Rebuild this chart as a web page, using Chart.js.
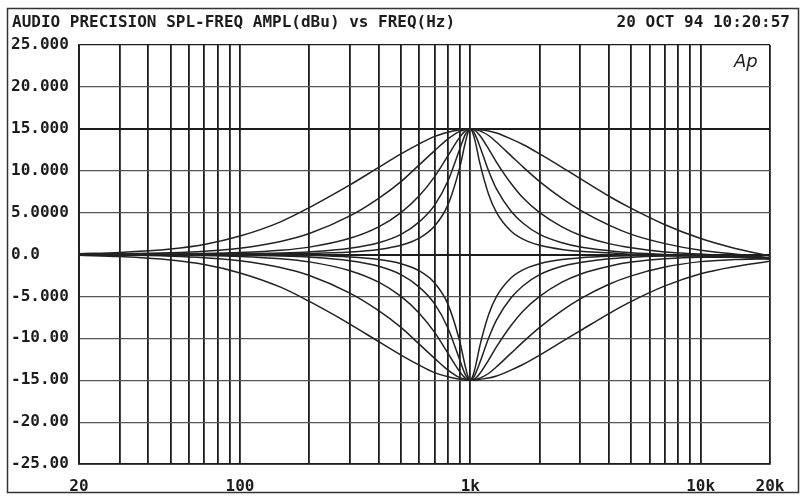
<!DOCTYPE html>
<html>
<head>
<meta charset="utf-8">
<script src="https://cdn.jsdelivr.net/npm/chart.js@4.4.1/dist/chart.umd.min.js"></script>
<style>
  html, body { margin: 0; padding: 0; background: #fff; }
  #wrap { width: 801px; height: 498px; }
</style>
</head>
<body>
<div id="wrap"><canvas id="apChart" width="801" height="498"></canvas></div>
<script>
const titleText = 'AUDIO PRECISION SPL-FREQ AMPL(dBu) vs FREQ(Hz)';
const dateText = '20 OCT 94 10:20:57';

// frequencies (Hz) where the traces were read
const freqs = [20, 30, 50, 70, 100, 150, 200, 300, 400, 500, 600, 700, 800, 900, 950, 975,
  1000, 1025, 1050, 1100, 1200, 1300, 1500, 1700, 2000, 2500, 3000, 4000, 5000, 7000, 10000, 14000, 20000];

// boost traces, widest to narrowest (dB)
const boost1 = [0.1, 0.25, 0.66, 1.2, 2.2, 3.9, 5.6, 8.3, 10.4, 12.0, 13.2, 14.1, 14.6, 14.9, 15.0, 15.0,
  15.0, 15.0, 15.0, 14.9, 14.75, 14.5, 13.8, 13.1, 12.0, 10.4, 9.05, 6.95, 5.5, 3.55, 1.9, 0.75, -0.2];
const boost2 = [0.03, 0.07, 0.2, 0.38, 0.75, 1.55, 2.5, 4.6, 6.7, 8.7, 10.7, 12.4, 13.8, 14.7, 14.9, 15.0,
  15.0, 15.0, 14.9, 14.75, 14.2, 13.4, 11.8, 10.4, 8.7, 6.7, 5.3, 3.5, 2.4, 1.3, 0.5, 0.05, -0.4];
const boost3 = [0.01, 0.02, 0.06, 0.11, 0.23, 0.5, 0.88, 1.93, 3.3, 5.0, 7.0, 9.3, 11.8, 14.0, 14.75, 14.95,
  15.0, 14.95, 14.8, 14.2, 12.6, 11.0, 8.5, 6.7, 5.0, 3.3, 2.3, 1.3, 0.8, 0.3, 0.05, -0.2, -0.5];
const boost4 = [0.0, 0.01, 0.02, 0.04, 0.08, 0.17, 0.31, 0.74, 1.4, 2.4, 3.9, 5.9, 8.8, 12.6, 14.3, 14.8,
  15.0, 14.8, 14.3, 12.9, 10.0, 7.8, 5.2, 3.7, 2.4, 1.4, 0.9, 0.45, 0.2, 0.0, -0.1, -0.3, -0.5];
const boost5 = [0.0, 0.0, 0.01, 0.01, 0.03, 0.07, 0.12, 0.3, 0.6, 1.1, 1.95, 3.4, 5.95, 10.4, 13.3, 14.5,
  15.0, 14.5, 13.5, 10.9, 7.2, 5.0, 2.8, 1.8, 1.1, 0.6, 0.38, 0.2, 0.02, -0.09, -0.15, -0.3, -0.5];

// cut traces, widest to narrowest (dB)
const cut1 = [-0.1, -0.25, -0.66, -1.2, -2.2, -3.9, -5.6, -8.3, -10.4, -12.0, -13.2, -14.1, -14.6, -14.9, -15.0, -15.0,
  -15.0, -15.0, -15.0, -14.9, -14.75, -14.5, -13.8, -13.1, -12.0, -10.4, -9.1, -7.05, -5.6, -3.75, -2.3, -1.45, -0.8];
const cut2 = [-0.03, -0.07, -0.2, -0.38, -0.75, -1.55, -2.5, -4.6, -6.7, -8.7, -10.7, -12.4, -13.8, -14.7, -14.9, -15.0,
  -15.0, -15.0, -14.9, -14.75, -14.2, -13.4, -11.8, -10.4, -8.7, -6.7, -5.3, -3.55, -2.55, -1.5, -0.85, -0.6, -0.5];
const cut3 = [-0.01, -0.02, -0.06, -0.11, -0.23, -0.5, -0.88, -1.93, -3.3, -5.0, -7.0, -9.3, -11.8, -14.0, -14.75, -14.95,
  -15.0, -14.95, -14.8, -14.2, -12.6, -11.0, -8.5, -6.7, -5.0, -3.3, -2.35, -1.4, -0.9, -0.5, -0.33, -0.32, -0.4];
const cut4 = [0.0, -0.01, -0.02, -0.04, -0.08, -0.17, -0.31, -0.74, -1.4, -2.4, -3.9, -5.9, -8.8, -12.6, -14.3, -14.8,
  -15.0, -14.8, -14.3, -12.9, -10.0, -7.8, -5.2, -3.7, -2.4, -1.4, -0.95, -0.5, -0.33, -0.18, -0.18, -0.24, -0.4];
const cut5 = [0.0, 0.0, -0.01, -0.01, -0.03, -0.07, -0.12, -0.3, -0.6, -1.1, -1.95, -3.4, -5.95, -10.4, -13.3, -14.5,
  -15.0, -14.5, -13.5, -10.9, -7.2, -5.0, -2.8, -1.8, -1.1, -0.6, -0.4, -0.22, -0.15, -0.12, -0.13, -0.2, -0.4];

// axes
const gridFreqs = [20, 30, 40, 50, 60, 70, 80, 90, 100, 200, 300, 400, 500, 600, 700, 800, 900,
  1000, 2000, 3000, 4000, 5000, 6000, 7000, 8000, 9000, 10000, 20000];
const xLabelFreqs = [20, 100, 1000, 10000, 20000];
const xLabelTexts = ['20', '100', '1k', '10k', '20k'];
const yTickValues = [25, 20, 15, 10, 5, 0, -5, -10, -15, -20, -25];
const yTickLabels = ['25.000', '20.000', '15.000', '10.000', '5.0000', '0.0', '-5.000', '-10.00', '-15.00', '-20.00', '-25.00'];

const INK = '#1c1c1c';
const FONT_FAMILY = '"DejaVu Sans Mono", "Liberation Mono", monospace';

const traces = [boost1, boost2, boost3, boost4, boost5, cut1, cut2, cut3, cut4, cut5];

const datasets = traces.map(arr => ({
  data: freqs.map((f, i) => ({ x: f, y: arr[i] })),
  borderColor: '#222',
  borderWidth: 1.5,
  pointRadius: 0,
  fill: false,
  cubicInterpolationMode: 'monotone'
}));

// header text, Ap logo and outer frame
const decorations = {
  id: 'decorations',
  afterDraw(chart) {
    const ctx = chart.ctx;
    ctx.save();
    ctx.strokeStyle = '#333';
    ctx.lineWidth = 1.5;
    ctx.strokeRect(7.5, 8.5, 791, 484);
    ctx.fillStyle = INK;
    ctx.font = 'bold 16px ' + FONT_FAMILY;
    ctx.textBaseline = 'middle';
    ctx.textAlign = 'left';
    ctx.fillText(titleText, 12, 23);
    ctx.textAlign = 'right';
    ctx.fillText(dateText, 790, 23);
    ctx.font = 'italic 18px "DejaVu Sans", sans-serif';
    ctx.textAlign = 'left';
    ctx.fillText('Ap', 734, 62);
    ctx.restore();
  }
};

new Chart(document.getElementById('apChart'), {
  type: 'line',
  data: { datasets },
  plugins: [decorations],
  options: {
    responsive: false,
    animation: false,
    devicePixelRatio: 1,
    layout: { padding: { top: 45, left: 11, right: 31, bottom: 0 } },
    plugins: {
      legend: { display: false },
      tooltip: { enabled: false }
    },
    scales: {
      x: {
        type: 'logarithmic',
        min: 20,
        max: 20000,
        afterBuildTicks: scale => { scale.ticks = gridFreqs.map(v => ({ value: v })); },
        afterFit: scale => { scale.height = 34; },
        grid: { color: INK, lineWidth: 1.8, drawTicks: false },
        border: { display: true, color: INK, width: 1.8 },
        ticks: {
          autoSkip: false,
          maxRotation: 0,
          padding: 13,
          color: INK,
          font: { family: FONT_FAMILY, size: 16, weight: 'bold' },
          callback: v => {
            const i = xLabelFreqs.indexOf(v);
            return i >= 0 ? xLabelTexts[i] : '';
          }
        }
      },
      y: {
        min: -25,
        max: 25,
        afterBuildTicks: scale => { scale.ticks = yTickValues.map(v => ({ value: v })); },
        afterFit: scale => { scale.width = 68; },
        grid: {
          drawTicks: false,
          color: ctx => (ctx.tick && [15, 0, 25, -25].includes(ctx.tick.value)) ? INK : '#555',
          lineWidth: ctx => (ctx.tick && [15, 0].includes(ctx.tick.value)) ? 2 : 1.2
        },
        border: { display: true, color: INK, width: 1.8 },
        ticks: {
          crossAlign: 'far',
          color: INK,
          font: { family: FONT_FAMILY, size: 16, weight: 'bold' },
          callback: v => {
            const i = yTickValues.indexOf(v);
            return i >= 0 ? yTickLabels[i] : '';
          }
        }
      }
    }
  }
});
</script>
</body>
</html>
